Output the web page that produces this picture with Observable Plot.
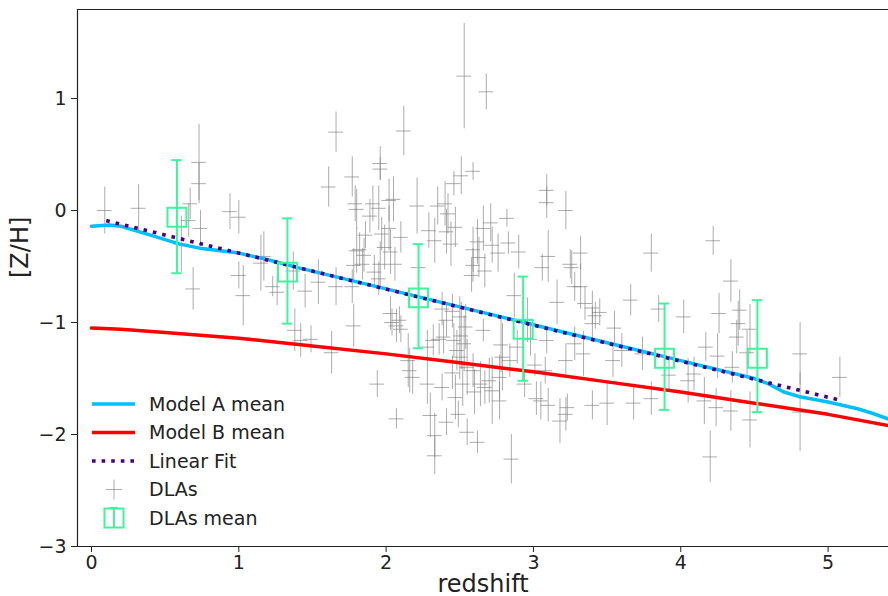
<!DOCTYPE html>
<html>
<head>
<meta charset="utf-8">
<script src="https://cdn.jsdelivr.net/npm/d3@7"></script>
<script src="https://cdn.jsdelivr.net/npm/@observablehq/plot@0.6"></script>
<style>
  html, body { margin: 0; padding: 0; background: #fff; }
  #wrap { position: relative; width: 888px; height: 596px; font-family: "DejaVu Sans", sans-serif; }
  #legend { position: absolute; left: 0; top: 0; pointer-events: none; }
</style>
</head>
<body>
<div id="wrap"></div>
<script>
// ---------- data ----------
const xDomain = [-0.095, 5.41];
const yDomain = [-3, 1.795];
const xTicks = [0, 1, 2, 3, 4, 5];
const yTicks = [-3, -2, -1, 0, 1];

// Model A mean curve
const modelAZ  = [0, 0.12, 0.2, 0.35, 0.5, 0.6, 0.75, 1.0, 1.2, 1.4, 2.0, 2.5, 3.0, 3.5, 4.0, 4.5, 4.6, 4.7, 4.8, 5.0, 5.2, 5.3, 5.45];
const modelAZH = [-0.14, -0.13, -0.14, -0.2, -0.26, -0.3, -0.34, -0.38, -0.44, -0.51, -0.70, -0.86, -1.02, -1.18, -1.34, -1.50, -1.55, -1.62, -1.66, -1.71, -1.77, -1.81, -1.88];
// Model B mean curve
const modelBZ  = [0, 0.2, 0.5, 1.0, 1.5, 2.0, 2.5, 3.0, 3.5, 4.0, 4.5, 5.0, 5.45];
const modelBZH = [-1.05, -1.06, -1.09, -1.14, -1.21, -1.28, -1.36, -1.44, -1.53, -1.62, -1.72, -1.82, -1.93];
// Linear fit
const fitZ  = [0.10, 5.07];
const fitZH = [-0.09, -1.69];
// DLAs mean (binned)
const meanZ  = [0.58, 1.33, 2.22, 2.93, 3.89, 4.52];
const meanZH = [-0.06, -0.55, -0.78, -1.06, -1.32, -1.32];
const meanLo = [-0.56, -1.01, -1.23, -1.52, -1.78, -1.80];
const meanHi = [0.45, -0.07, -0.30, -0.59, -0.83, -0.80];
// individual DLAs
const dlaXErr = 0.05;
const dlaZ = [0.09,0.32,0.73,0.73,0.67,0.66,0.74,0.61,0.69,0.94,1.00,1.00,1.03,1.15,1.17,1.23,1.26,1.37,1.38,1.42,
  1.45,1.54,1.66,2.12,2.53,2.68,1.61,1.77,1.96,1.96,1.79,1.80,1.91,1.95,1.89,2.02,2.05,2.21,2.35,2.40,
  2.42,2.46,2.51,2.59,1.86,1.97,2.02,2.10,1.82,1.99,2.03,2.29,2.33,2.41,2.47,2.44,2.62,2.66,2.71,2.59,
  2.72,2.82,3.09,3.09,3.22,3.80,2.83,2.76,2.90,3.10,3.06,3.25,3.26,3.32,3.28,3.32,2.87,3.16,3.35,3.40,
  3.45,3.66,3.85,4.02,4.22,4.34,4.26,4.40,4.39,4.38,4.47,4.17,4.09,4.16,4.24,4.35,4.34,4.47,4.20,4.81,
  4.81,5.08,4.45,1.49,1.63,1.66,1.78,1.77,1.94,2.07,2.04,2.07,2.15,2.16,2.18,2.28,2.30,2.33,2.33,2.38,
  2.41,2.47,2.55,2.62,2.49,2.32,2.39,2.46,2.48,2.51,2.53,2.54,2.50,2.59,2.64,2.67,2.70,2.72,2.66,2.59,
  2.63,1.78,1.84,1.92,1.96,1.95,2.06,2.09,2.10,2.28,2.36,2.41,2.03,2.58,2.67,2.38,2.45,2.50,1.80,1.85,
  2.85,2.77,3.05,3.02,3.10,3.18,3.23,3.22,3.40,3.50,3.68,3.80,4.05,3.01,3.08,2.89,2.84,2.77,2.79,2.94,
  3.09,3.22,3.28,3.34,3.54,3.60,3.74,3.92,3.42,3.40,2.22,2.96,2.98,3.55,4.25,2.55,2.60,2.52,2.78,2.45];
const dlaZH = [0.00,0.02,0.43,0.24,0.06,-0.09,-0.16,-0.30,-0.70,-0.01,-0.06,-0.58,-0.76,-0.47,-0.41,-0.68,-0.73,-0.54,-1.07,-1.16,
  -0.72,-0.64,0.70,0.71,1.20,1.06,0.21,0.30,0.42,0.37,0.06,0.01,0.06,0.02,-0.05,0.09,0.10,0.04,0.04,0.06,
  -0.03,0.24,0.31,0.35,-0.22,-0.21,-0.16,-0.24,-0.35,-0.33,-0.37,-0.18,-0.27,-0.19,-0.15,-0.30,-0.28,-0.16,-0.11,-0.35,
  -0.31,-0.07,0.18,0.07,0.00,-0.38,-0.29,-0.38,-0.37,-0.41,-0.51,-0.48,-0.51,-0.38,-0.68,-0.68,-0.76,-0.82,-0.83,-0.87,
  -0.91,-0.80,-0.88,-0.95,-0.27,-0.63,-0.92,-0.89,-1.01,-1.13,-1.06,-1.22,-1.46,-1.70,-1.76,-1.40,-1.79,-1.87,-2.20,-1.28,
  -1.80,-1.49,-1.27,-1.15,-1.27,-0.68,-1.03,-0.68,-1.55,-1.86,-1.00,-1.03,-1.34,-1.43,-1.49,-1.55,-1.83,-2.01,-2.19,-1.58,
  -1.89,-1.67,-1.98,-2.07,-1.82,-1.16,-1.13,-1.16,-1.25,-1.12,-1.19,-1.04,-1.31,-1.43,-1.55,-1.58,-1.52,-1.61,-1.07,-0.49,
  -0.42,-0.49,-0.48,-0.55,-0.48,-0.61,-0.48,-0.98,-1.06,-1.22,-1.15,-0.98,-0.92,-0.58,-0.54,-0.88,-0.90,-0.95,-0.36,-0.40,
  -2.22,-1.70,-1.70,-1.68,-1.74,-1.88,-1.76,-1.82,-1.74,-1.72,-1.72,-1.68,-1.52,-1.38,-1.43,-1.22,-1.34,-1.49,-1.31,-1.55,
  -1.16,-1.34,-1.19,-1.28,-1.34,-1.25,-1.28,-1.47,-0.94,-1.01,-0.51,-0.98,-1.15,-1.05,-1.30,-1.40,-1.62,-1.55,-1.20,-1.45];
const dlaErr = [0.21,0.21,0.34,0.18,0.14,0.15,0.16,0.25,0.19,0.16,0.15,0.12,0.27,0.25,0.22,0.09,0.12,0.17,0.19,0.15,
  0.15,0.20,0.18,0.22,0.47,0.16,0.18,0.18,0.15,0.10,0.16,0.18,0.16,0.20,0.15,0.19,0.20,0.25,0.17,0.20,
  0.18,0.11,0.17,0.08,0.12,0.15,0.20,0.14,0.15,0.20,0.20,0.16,0.20,0.20,0.18,0.20,0.20,0.20,0.17,0.20,
  0.16,0.08,0.14,0.14,0.17,0.17,0.10,0.17,0.15,0.23,0.12,0.13,0.15,0.15,0.13,0.20,0.20,0.20,0.15,0.15,
  0.12,0.14,0.12,0.15,0.13,0.19,0.18,0.18,0.20,0.15,0.22,0.13,0.15,0.21,0.17,0.14,0.18,0.25,0.23,0.28,
  0.35,0.18,0.20,0.12,0.19,0.17,0.19,0.15,0.12,0.09,0.12,0.15,0.24,0.20,0.15,0.18,0.20,0.20,0.17,0.12,
  0.12,0.20,0.12,0.10,0.12,0.14,0.15,0.15,0.18,0.30,0.25,0.20,0.20,0.15,0.20,0.15,0.20,0.30,0.10,0.15,
  0.18,0.15,0.14,0.15,0.20,0.15,0.15,0.12,0.12,0.15,0.14,0.15,0.15,0.15,0.15,0.15,0.15,0.18,0.20,0.15,
  0.22,0.17,0.17,0.15,0.15,0.20,0.12,0.15,0.13,0.20,0.15,0.15,0.20,0.10,0.12,0.15,0.15,0.20,0.30,0.12,
  0.12,0.15,0.15,0.20,0.15,0.15,0.15,0.15,0.12,0.15,0.20,0.20,0.15,0.15,0.20,0.25,0.20,0.20,0.25,0.15];

const capHalf = 0.035;
const colA = "#00bfff", colB = "#ff0000", colFit = "#4b0082", colMean = "#3df59b", colDLA = "#808080";

// ---------- tables ----------
const modelA = modelAZ.map((z, i) => ({z, zh: modelAZH[i]}));
const modelB = modelBZ.map((z, i) => ({z, zh: modelBZH[i]}));
const fit = fitZ.map((z, i) => ({z, zh: fitZH[i]}));
const means = meanZ.map((z, i) => ({z, zh: meanZH[i], lo: meanLo[i], hi: meanHi[i]}));
const dla = dlaZ.map((z, i) => ({z, zh: dlaZH[i], err: dlaErr[i]}));

const fmt = d => (d < 0 ? "\u2212" + Math.abs(d) : String(d));
const ink = "#222";

const chart = Plot.plot({
  width: 888,
  height: 596,
  marginLeft: 77,
  marginRight: 0,
  marginTop: 9,
  marginBottom: 50,
  style: {fontFamily: "DejaVu Sans, sans-serif", background: "#fff", color: ink},
  x: {domain: xDomain},
  y: {domain: yDomain},
  marks: [
    // DLAs crosses
    Plot.ruleX(dla, {x: "z", y1: d => d.zh - d.err, y2: d => d.zh + d.err, stroke: colDLA, strokeOpacity: 0.65, strokeWidth: 1}),
    Plot.ruleY(dla, {y: "zh", x1: d => d.z - dlaXErr, x2: d => d.z + dlaXErr, stroke: colDLA, strokeOpacity: 0.65, strokeWidth: 1}),
    // models
    Plot.line(modelA, {x: "z", y: "zh", stroke: colA, strokeWidth: 3.5, clip: true}),
    Plot.line(modelB, {x: "z", y: "zh", stroke: colB, strokeWidth: 3.5, clip: true}),
    Plot.line(fit, {x: "z", y: "zh", stroke: colFit, strokeWidth: 3.6, strokeDasharray: "3.6,6", strokeLinecap: "butt"}),
    // DLAs mean
    Plot.ruleX(means, {x: "z", y1: "lo", y2: "hi", stroke: colMean, strokeWidth: 2}),
    Plot.ruleY(means, {y: "lo", x1: d => d.z - capHalf, x2: d => d.z + capHalf, stroke: colMean, strokeWidth: 2}),
    Plot.ruleY(means, {y: "hi", x1: d => d.z - capHalf, x2: d => d.z + capHalf, stroke: colMean, strokeWidth: 2}),
    Plot.dot(means, {x: "z", y: "zh", symbol: "square", r: 10.7, stroke: colMean, strokeWidth: 2, fill: "none"}),
    // spines
    Plot.ruleY([yDomain[0], yDomain[1]], {stroke: ink, strokeWidth: 1.2}),
    Plot.ruleX([xDomain[0]], {stroke: ink, strokeWidth: 1.2}),
    // axes
    Plot.axisX({ticks: xTicks, tickFormat: fmt, tickSize: 6, tickPadding: 3, fontSize: 19, label: null, stroke: ink}),
    Plot.axisY({ticks: yTicks, tickFormat: fmt, tickSize: 6, tickPadding: 5, fontSize: 19, label: null, stroke: ink}),
    Plot.text(["redshift"], {frameAnchor: "bottom", dy: 45, fontSize: 24, fill: ink}),
    Plot.text(["[Z/H]"], {frameAnchor: "left", dx: -57, rotate: -90, fontSize: 24, fill: ink})
  ]
});
document.getElementById("wrap").appendChild(chart);

// ---------- legend (overlay) ----------
const lg = d3.select("#wrap").append("svg").attr("id", "legend").attr("width", 888).attr("height", 596);
const rows = [
  {label: "Model A mean", kind: "line", color: colA},
  {label: "Model B mean", kind: "line", color: colB},
  {label: "Linear Fit", kind: "dot", color: colFit},
  {label: "DLAs", kind: "cross", color: colDLA},
  {label: "DLAs mean", kind: "mean", color: colMean}
];
const y0 = 404, dyRow = 28.5, xs0 = 92, xs1 = 135, xt = 149, xm = 114;
rows.forEach((r, i) => {
  const y = y0 + i * dyRow;
  const g = lg.append("g");
  if (r.kind === "line") {
    g.append("line").attr("x1", xs0).attr("x2", xs1).attr("y1", y).attr("y2", y).attr("stroke", r.color).attr("stroke-width", 3.5);
  } else if (r.kind === "dot") {
    g.append("line").attr("x1", xs0).attr("x2", xs1).attr("y1", y).attr("y2", y).attr("stroke", r.color).attr("stroke-width", 3.6).attr("stroke-dasharray", "3.6,6");
  } else if (r.kind === "cross") {
    g.append("line").attr("x1", xm).attr("x2", xm).attr("y1", y - 10).attr("y2", y + 10).attr("stroke", r.color).attr("stroke-opacity", 0.65);
    g.append("line").attr("x1", xm - 8).attr("x2", xm + 8).attr("y1", y).attr("y2", y).attr("stroke", r.color).attr("stroke-opacity", 0.65);
  } else {
    g.append("rect").attr("x", xm - 9.5).attr("y", y - 9.5).attr("width", 19).attr("height", 19).attr("fill", "none").attr("stroke", r.color).attr("stroke-width", 2);
    g.append("line").attr("x1", xm).attr("x2", xm).attr("y1", y - 10).attr("y2", y + 10).attr("stroke", r.color).attr("stroke-width", 2);
    g.append("line").attr("x1", xm - 4).attr("x2", xm + 4).attr("y1", y - 10).attr("y2", y - 10).attr("stroke", r.color).attr("stroke-width", 2);
  }
  g.append("text").attr("x", xt).attr("y", y).attr("dy", "0.36em").attr("font-size", 19)
    .attr("font-family", "DejaVu Sans, sans-serif").attr("fill", ink).text(r.label);
});
</script>
</body>
</html>
